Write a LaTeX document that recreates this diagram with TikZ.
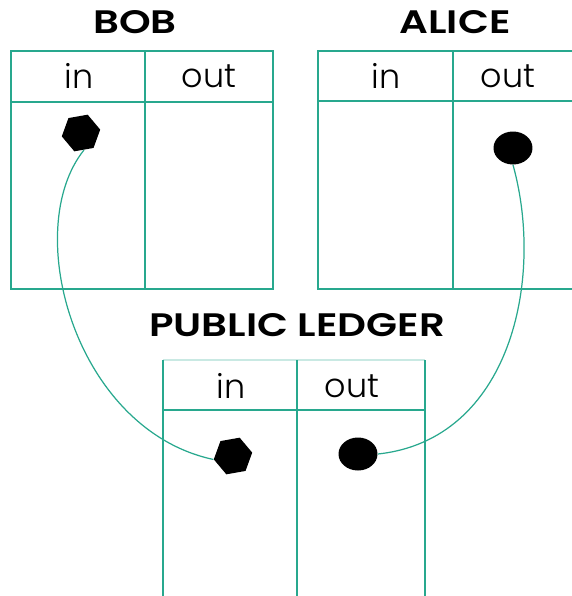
\documentclass[tikz,border=0pt]{standalone}
\usepackage{fontspec}
\setmainfont{Poppins}
\newfontfamily\lightfont{Poppins Light}
\newfontfamily\semifont{Poppins SemiBold}
\definecolor{ledgerteal}{RGB}{40, 168, 142}
\usetikzlibrary{shapes.geometric, positioning}

\begin{document}
\begin{tikzpicture}[
      x=0.02cm, y=-0.02cm,
      tablebox/.style={draw=ledgerteal, line width=1.1pt},
      title/.style={font=\semifont\fontsize{18.5}{20}\selectfont, inner sep=0pt,
                    xscale=1.24, transform shape},
      colhead/.style={font=\lightfont\fontsize{19}{22}\selectfont, inner sep=0pt},
      hexcoin/.style={regular polygon, regular polygon sides=6, fill=black,
                      inner sep=0pt, minimum size=0.78cm, rotate=10},
      roundcoin/.style={ellipse, fill=black, inner sep=0pt,
                        minimum width=0.78cm, minimum height=0.66cm},
      transfer/.style={draw=ledgerteal, line width=0.7pt}
    ]
      \useasboundingbox (0,0) rectangle (572,596);
      \clip (0,0) rectangle (572,596);

      % Bob's table
      \draw[tablebox] (11,51) rectangle (273,289);
      \draw[tablebox] (11,102) -- (273,102);
      \draw[tablebox] (145,51) -- (145,289);
      \node[title] (bob) at (135,22) {BOB};
      \node[colhead] (bobin) at (79,76) {in};
      \node[colhead] (bobout) at (209,76) {out};

      % Alice's table (runs off the right edge)
      \draw[tablebox] (318,51) rectangle (590,289);
      \draw[tablebox] (318,101) -- (590,101);
      \draw[tablebox] (453,51) -- (453,289);
      \node[title] (alice) at (455,22) {ALICE};
      \node[colhead] (alicein) at (386,76) {in};
      \node[colhead] (aliceout) at (508,76) {out};

      % Public ledger (runs off the bottom)
      \draw[draw=ledgerteal!25, line width=1.1pt] (163,360) -- (425,360);
      \draw[tablebox] (163,360) -- (163,610);
      \draw[tablebox] (425,360) -- (425,610);
      \draw[tablebox] (163,410) -- (425,410);
      \draw[tablebox] (297,360) -- (297,610);
      \node[title] (ledger) at (297,325) {PUBLIC LEDGER};
      \node[colhead] (ledgerin) at (231,386) {in};
      \node[colhead] (ledgerout) at (352,386) {out};

      % Coins
      \node[hexcoin] (bobcoin) at (81,133) {};
      \node[roundcoin] (alicecoin) at (513,148) {};
      \node[hexcoin] (ledgerhex) at (233,456) {};
      \node[roundcoin] (ledgerdot) at (358,454) {};

      % Transfers into the ledger
      \draw[transfer] (bobcoin.south) .. controls (20,230) and (75,430) .. (ledgerhex.west);
      \draw[transfer] (alicecoin.south) .. controls (545,280) and (510,440) .. (ledgerdot.east);

    \end{tikzpicture}
\end{document}
